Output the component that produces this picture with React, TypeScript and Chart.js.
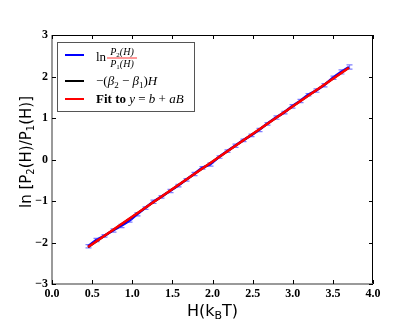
import React, { useEffect, useRef } from "react";
import { Chart, registerables } from "chart.js";

Chart.register(...registerables);

const hValues = [0.45, 0.55, 0.65, 0.76, 0.86, 0.96, 1.06, 1.16, 1.26, 1.36, 1.47, 1.57, 1.67, 1.77, 1.87, 1.97, 2.08, 2.18, 2.28, 2.38, 2.48, 2.58, 2.68, 2.79, 2.89, 2.99, 3.09, 3.19, 3.29, 3.39, 3.50, 3.60, 3.70];
const lnRatio = [-2.09, -1.94, -1.84, -1.71, -1.60, -1.48, -1.32, -1.17, -1.02, -0.90, -0.76, -0.63, -0.49, -0.35, -0.20, -0.12, 0.06, 0.20, 0.33, 0.46, 0.58, 0.71, 0.86, 1.01, 1.13, 1.28, 1.41, 1.56, 1.66, 1.79, 1.97, 2.11, 2.23];
const lnRatioErr = [0.04, 0.04, 0.03, 0.04, 0.04, 0.03, 0.04, 0.03, 0.04, 0.03, 0.04, 0.03, 0.03, 0.04, 0.03, 0.04, 0.03, 0.03, 0.04, 0.03, 0.03, 0.04, 0.03, 0.04, 0.03, 0.04, 0.04, 0.03, 0.04, 0.04, 0.04, 0.05, 0.05];
const theoryH = [0.45, 3.70];
const theoryY = [-2.11, 2.21];
const fitH = [0.45, 3.70];
const fitY = [-2.11, 2.21];
const xTicks = [0, 0.5, 1, 1.5, 2, 2.5, 3, 3.5, 4];
const yTicks = [-3, -2, -1, 0, 1, 2, 3];

type Run = { t: string; font: string; dy?: number };

function drawRuns(ctx: CanvasRenderingContext2D, x: number, y: number, runs: Run[]) {
  let cx = x;
  ctx.textBaseline = "alphabetic";
  ctx.textAlign = "left";
  for (const r of runs) {
    ctx.font = r.font;
    ctx.fillText(r.t, cx, y + (r.dy || 0));
    cx += ctx.measureText(r.t).width;
  }
  return cx;
}

function runsWidth(ctx: CanvasRenderingContext2D, runs: Run[]) {
  let w = 0;
  for (const r of runs) {
    ctx.font = r.font;
    w += ctx.measureText(r.t).width;
  }
  return w;
}

const decorPlugin = {
  id: "decor",
  afterDatasetDraw(chart: any, args: any) {
    if (args.index !== 2) return;
    const ctx = chart.ctx;
    const xs = chart.scales.x;
    const ys = chart.scales.y;
    ctx.save();
    ctx.strokeStyle = "rgba(40,40,255,0.6)";
    ctx.lineWidth = 1.2;
    for (let i = 0; i < hValues.length; i++) {
      const px = Math.round(xs.getPixelForValue(hValues[i])) + 0.5;
      const y1 = ys.getPixelForValue(lnRatio[i] + lnRatioErr[i]);
      const y2 = ys.getPixelForValue(lnRatio[i] - lnRatioErr[i]);
      ctx.beginPath();
      ctx.moveTo(px, y1);
      ctx.lineTo(px, y2);
      ctx.moveTo(px - 3, y1);
      ctx.lineTo(px + 3, y1);
      ctx.moveTo(px - 3, y2);
      ctx.lineTo(px + 3, y2);
      ctx.stroke();
    }
    ctx.restore();
  },
  afterDraw(chart: any) {
    const ctx: CanvasRenderingContext2D = chart.ctx;
    const a = chart.chartArea;
    const xs = chart.scales.x;
    const ys = chart.scales.y;
    ctx.save();
    // frame
    ctx.lineWidth = 1;
    ctx.strokeStyle = "#000";
    ctx.beginPath();
    ctx.moveTo(a.left, a.top + 0.5);
    ctx.lineTo(a.right - 0.5, a.top + 0.5);
    ctx.lineTo(a.right - 0.5, a.bottom);
    ctx.stroke();
    ctx.strokeStyle = "#7a7a7a";
    ctx.lineWidth = 1.5;
    ctx.beginPath();
    ctx.moveTo(a.left, a.top);
    ctx.lineTo(a.left, a.bottom);
    ctx.lineTo(a.right, a.bottom);
    ctx.stroke();
    // inner ticks
    ctx.strokeStyle = "#000";
    ctx.lineWidth = 1;
    ctx.beginPath();
    for (const v of xTicks) {
      const px = Math.round(xs.getPixelForValue(v)) + 0.5;
      ctx.moveTo(px, a.bottom);
      ctx.lineTo(px, a.bottom - 4);
      ctx.moveTo(px, a.top);
      ctx.lineTo(px, a.top + 4);
    }
    for (const v of yTicks) {
      const py = Math.round(ys.getPixelForValue(v)) + 0.5;
      ctx.moveTo(a.left, py);
      ctx.lineTo(a.left + 4, py);
      ctx.moveTo(a.right, py);
      ctx.lineTo(a.right - 4, py);
    }
    ctx.stroke();

    // axis titles
    ctx.fillStyle = "#000";
    const sans = "'DejaVu Sans', sans-serif";
    const xRuns: Run[] = [
      { t: "H(k", font: `16px ${sans}` },
      { t: "B", font: `11px ${sans}`, dy: 3 },
      { t: "T)", font: `16px ${sans}` },
    ];
    const xw = runsWidth(ctx, xRuns);
    drawRuns(ctx, (a.left + a.right) / 2 - xw / 2, 316, xRuns);

    const yRuns: Run[] = [
      { t: "ln [P", font: `15px ${sans}` },
      { t: "2", font: `10px ${sans}`, dy: 3 },
      { t: "(H)/P", font: `15px ${sans}` },
      { t: "1", font: `10px ${sans}`, dy: 3 },
      { t: "(H)]", font: `15px ${sans}` },
    ];
    const yw = runsWidth(ctx, yRuns);
    ctx.save();
    ctx.translate(31, 152);
    ctx.rotate(-Math.PI / 2);
    drawRuns(ctx, -yw / 2, 0, yRuns);
    ctx.restore();

    // legend
    const serif = "'Liberation Serif', 'DejaVu Serif', serif";
    ctx.fillStyle = "#fff";
    ctx.fillRect(57.5, 42.5, 137, 69);
    ctx.strokeStyle = "#555";
    ctx.lineWidth = 1;
    ctx.strokeRect(57.5, 42.5, 137, 69);
    const lines = [
      { c: "#0000ff", y: 55 },
      { c: "#000000", y: 81 },
      { c: "#ff0000", y: 99 },
    ];
    ctx.lineWidth = 2;
    for (const l of lines) {
      ctx.strokeStyle = l.c;
      ctx.beginPath();
      ctx.moveTo(65, l.y);
      ctx.lineTo(84, l.y);
      ctx.stroke();
    }
    ctx.fillStyle = "#000";
    // entry 1: ln P2(H)/P1(H) as fraction
    drawRuns(ctx, 96, 61, [{ t: "ln", font: `13px ${serif}` }]);
    const numRuns: Run[] = [
      { t: "P", font: `italic 10px ${serif}` },
      { t: "2", font: `7px ${serif}`, dy: 2 },
      { t: "(H)", font: `italic 10px ${serif}` },
    ];
    const denRuns: Run[] = [
      { t: "P", font: `italic 10px ${serif}` },
      { t: "1", font: `7px ${serif}`, dy: 2 },
      { t: "(H)", font: `italic 10px ${serif}` },
    ];
    const fx = 107;
    const fw = 30;
    const nw = runsWidth(ctx, numRuns);
    const dw = runsWidth(ctx, denRuns);
    drawRuns(ctx, fx + (fw - nw) / 2, 55, numRuns);
    ctx.lineWidth = 0.8;
    ctx.beginPath();
    ctx.moveTo(fx, 58);
    ctx.lineTo(fx + fw, 58);
    ctx.stroke();
    drawRuns(ctx, fx + (fw - dw) / 2, 67, denRuns);
    // entry 2
    drawRuns(ctx, 96, 85, [
      { t: "\u2212(", font: `13px ${serif}` },
      { t: "\u03b2", font: `italic 13px ${serif}` },
      { t: "2", font: `9px ${serif}`, dy: 3 },
      { t: " \u2212 ", font: `13px ${serif}` },
      { t: "\u03b2", font: `italic 13px ${serif}` },
      { t: "1", font: `9px ${serif}`, dy: 3 },
      { t: ")", font: `13px ${serif}` },
      { t: "H", font: `italic 13px ${serif}` },
    ]);
    // entry 3
    drawRuns(ctx, 96, 103, [
      { t: "Fit to ", font: `bold 13px ${serif}` },
      { t: "y", font: `italic 13px ${serif}` },
      { t: " = ", font: `13px ${serif}` },
      { t: "b", font: `italic 13px ${serif}` },
      { t: " + ", font: `13px ${serif}` },
      { t: "aB", font: `italic 13px ${serif}` },
    ]);
    ctx.restore();
  },
};

export default function App() {
  const ref = useRef<HTMLCanvasElement>(null);
  useEffect(() => {
    document.body.style.margin = "0";
    const canvas = ref.current!;
    const tickFont = { family: "'Liberation Serif', 'DejaVu Serif', serif", size: 12, weight: "bold" as const };
    const chart = new Chart(canvas, {
      type: "line",
      data: {
        datasets: [
          {
            label: "fit",
            data: fitH.map((h, i) => ({ x: h, y: fitY[i] })),
            borderColor: "#ff0000",
            borderWidth: 2.5,
            pointRadius: 0,
            tension: 0,
            order: 1,
          },
          {
            label: "theory",
            data: theoryH.map((h, i) => ({ x: h, y: theoryY[i] })),
            borderColor: "#000000",
            borderWidth: 2,
            pointRadius: 0,
            tension: 0,
            order: 2,
          },
          {
            label: "data",
            data: hValues.map((h, i) => ({ x: h, y: lnRatio[i] })),
            borderColor: "#0000ff",
            borderWidth: 2.5,
            pointRadius: 0,
            tension: 0,
            order: 3,
          },
        ],
      },
      options: {
        animation: false,
        responsive: false,
        maintainAspectRatio: false,
        layout: { padding: { top: 35, right: 42, left: 0, bottom: 0 } },
        plugins: { legend: { display: false }, tooltip: { enabled: false } },
        scales: {
          x: {
            type: "linear",
            min: 0,
            max: 4,
            grid: { display: false, drawTicks: false },
            border: { display: false },
            afterFit: (s: any) => {
              s.height = 44;
            },
            afterBuildTicks: (s: any) => {
              s.ticks = xTicks.map((v) => ({ value: v }));
            },
            ticks: {
              padding: 3,
              color: "#000",
              font: tickFont,
              maxRotation: 0,
              autoSkip: false,
              callback: (v: any) => Number(v).toFixed(1),
            },
          },
          y: {
            type: "linear",
            min: -3,
            max: 3,
            grid: { display: false, drawTicks: false },
            border: { display: false },
            afterFit: (s: any) => {
              s.width = 52;
            },
            afterBuildTicks: (s: any) => {
              s.ticks = yTicks.map((v) => ({ value: v }));
            },
            ticks: {
              padding: 4,
              color: "#000",
              font: tickFont,
              autoSkip: false,
              callback: (v: any) => (Number(v) < 0 ? "\u2212" + Math.abs(Number(v)) : String(v)),
            },
          },
        },
      },
      plugins: [decorPlugin],
    });
    return () => chart.destroy();
  }, []);
  return <canvas ref={ref} width={415} height={328} style={{ display: "block" }} />;
}
